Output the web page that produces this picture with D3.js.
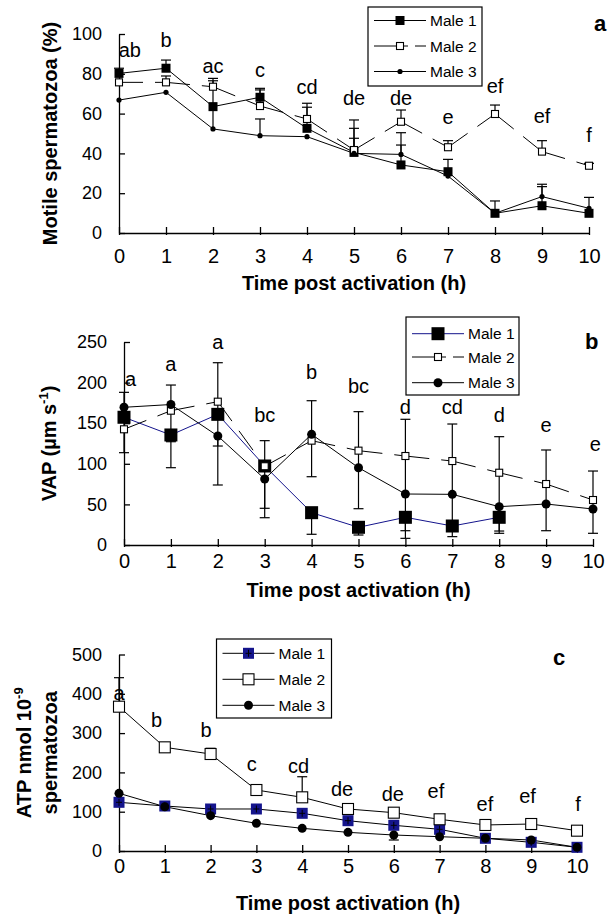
<!DOCTYPE html>
<html>
<head>
<meta charset="utf-8">
<script src="https://cdn.jsdelivr.net/npm/d3@7"></script>
<style>
  body { margin: 0; background: #fff; }
  svg { display: block; }
  text { font-family: 'Liberation Sans', Arial, sans-serif; fill: #000; }
</style>
</head>
<body>
<script>
const hours = [0, 1, 2, 3, 4, 5, 6, 7, 8, 9, 10];
const seriesNames = ["Male 1", "Male 2", "Male 3"];

// (a) motile spermatozoa, %
const motileTicks = [0, 20, 40, 60, 80, 100];
const motileMale1 = [80.2, 82.8, 63.5, 68.2, 52.6, 40.5, 34.2, 30.8, 9.9, 13.7, 9.9];
const motileMale2 = [75.7, 75.7, 73.5, 63.8, 57.3, 41.7, 55.9, 43.1, 59.8, 40.9, 33.8];
const motileMale3 = [66.8, 70.7, 52.3, 48.9, 48.4, 40.0, 39.5, 28.6, 9.9, 18.3, 12.4];
const motileMale1Hi = [82.8, 86.9, null, 72.7, 63.2, 47.6, 44.2, 37.0, 16.1, 23.3, null];
const motileMale2Hi = [null, 78.9, 77.7, 71.9, 65.2, 56.8, 61.8, 46.4, 64.3, 46.4, 35.0];
const motileMale3Hi = [null, null, 76.5, 57.3, null, 52.6, 50.4, null, null, 24.5, 17.9];
const motileLetters = ["ab", "b", "ac", "c", "cd", "de", "de", "e", "ef", "ef", "f"];
const motileLetterX = [0.23, 1, 2, 3, 4, 5, 6, 7, 8, 9, 10];
const motileLetterY = [88.3, 93.6, 80.4, 78.5, 69.8, 64.3, 64.3, 54.8, 70.2, 55.1, 45.9];

// (b) VAP, µm s-1
const vapTicks = [0, 50, 100, 150, 200, 250];
const vapMale1 = [157.3, 135.5, 160.9, 97.3, 39.8, 21.8, 34.1, 23.4, 34.1, null, null];
const vapMale2 = [142.5, 165.4, 176.5, 97.0, 128.5, 116.2, 109.6, 103.4, 89.0, 75.1, 55.4];
const vapMale3 = [169.6, 173.0, 134.2, 81.3, 136.3, 95.2, 62.8, 62.4, 47.2, 50.5, 44.3];
const vapMale1Lo = [113.7, 95.2, 73.9, 45.2, 13.2, 12.3, 8.2, null, 14.4, null, null];
const vapMale1Hi = [188.0, null, 224.5, 128.5, null, null, null, null, null, null, null];
const vapMale2Lo = [null, 127.2, null, null, null, null, null, null, null, null, null];
const vapMale3Lo = [null, null, 121.9, 33.6, 84.1, 44.7, 17.6, 10.3, 17.2, 17.6, 14.4];
const vapMale3Hi = [null, 197.0, null, null, 177.7, 164.2, 154.8, 149.0, 133.4, 117.0, 91.1];
const vapLetters = ["a", "a", "a", "bc", "b", "bc", "d", "cd", "d", "e", "e"];
const vapLetterX = [0.14, 1, 2, 3, 4, 5, 6, 7, 8, 9, 10.05];
const vapLetterY = [196.2, 214.7, 241.0, 151.8, 204.0, 187.6, 161.3, 161.3, 151.8, 139.5, 115.8];

// (c) ATP, nmol 10-9 spermatozoa
const atpTicks = [0, 100, 200, 300, 400, 500];
const atpMale1 = [123.9, 114.5, 106.9, 106.9, 95.9, 77.1, 65.4, 55.2, 32.3, 22.1, 9.4];
const atpMale2 = [367.2, 263.8, 246.8, 155.2, 136.6, 106.9, 97.5, 80.7, 66.2, 68.7, 51.7];
const atpMale3 = [146.8, 112.7, 89.9, 70.5, 57.7, 47.5, 40.7, 36.4, 32.3, 28.0, 9.4];
const atpMale2Hi = [441.0, null, 261.3, null, 189.0, null, null, null, null, null, null];
const atpMale3Lo = [null, null, null, null, null, null, 28.0, null, null, null, null];
const atpLetters = ["a", "b", "b", "c", "cd", "de", "de", "ef", "ef", "ef", "f"];
const atpLetterX = [0, 0.82, 1.9, 2.9, 3.92, 4.87, 5.98, 6.92, 7.99, 8.92, 10.02];
const atpLetterY = [384.2, 314.8, 290.8, 204.3, 199.2, 140.0, 128.0, 134.1, 102.5, 121.4, 102.5];

const NAVY = "#14148c";
const svg = d3.select("body").append("svg").attr("width", 608).attr("height", 917);

function drawMarker(g, type, cx, cy, size, fill) {
  if (type === "dot") {
    g.append("circle").attr("cx", cx).attr("cy", cy).attr("r", size).attr("fill", "#000");
  } else if (type === "open") {
    g.append("rect").attr("x", cx - size / 2).attr("y", cy - size / 2)
      .attr("width", size).attr("height", size)
      .attr("fill", "#fff").attr("stroke", "#000").attr("stroke-width", 1.1);
  } else {
    g.append("rect").attr("x", cx - size / 2).attr("y", cy - size / 2)
      .attr("width", size).attr("height", size).attr("fill", fill || "#000");
    if (type === "plus") {
      g.append("path")
        .attr("d", `M${cx - 3},${cy}H${cx + 3}M${cx},${cy - 3.5}V${cy + 3.5}`)
        .attr("stroke", "#000").attr("stroke-width", 1);
    }
  }
}

function drawPanel(p) {
  const g = svg.append("g");
  const x = d3.scaleLinear().domain([0, 10]).range(p.xRange);
  const y = d3.scaleLinear().domain([0, d3.max(p.yTicks)]).range(p.yRange);

  // y axis, ticks pointing inside
  const ya = g.append("g")
    .attr("transform", `translate(${p.xRange[0]},0)`)
    .call(d3.axisLeft(y).tickValues(p.yTicks).tickSizeInner(-6).tickSizeOuter(0).tickPadding(17))
    .attr("font-family", null).attr("font-size", 18);
  ya.selectAll("path,line").attr("stroke", "#000").attr("stroke-width", 1.3);

  // x axis, ticks crossing the line
  const xa = g.append("g")
    .attr("transform", `translate(0,${p.yRange[0]})`)
    .call(d3.axisBottom(x).tickValues(hours).tickSizeInner(-6).tickSizeOuter(0).tickPadding(p.xLabelPad))
    .attr("font-family", null).attr("font-size", 20);
  xa.selectAll("path,line").attr("stroke", "#000").attr("stroke-width", 1.3);
  xa.selectAll(".tick line").attr("y1", 2);

  // lines
  p.series.forEach(s => {
    if (s.dashed) {
      for (let i = 0; i < hours.length - 1; i++) {
        if (s.values[i] == null || s.values[i + 1] == null) continue;
        g.append("line")
          .attr("x1", x(hours[i])).attr("y1", y(s.values[i]))
          .attr("x2", x(hours[i + 1])).attr("y2", y(s.values[i + 1]))
          .attr("stroke", s.lineColor).attr("stroke-width", 1)
          .attr("stroke-dasharray", "24,12");
      }
    } else {
      const line = d3.line()
        .defined(d => d != null)
        .x((d, i) => x(hours[i]))
        .y(d => y(d));
      g.append("path").datum(s.values)
        .attr("d", line).attr("fill", "none")
        .attr("stroke", s.lineColor).attr("stroke-width", 1);
    }
  });

  // error bars
  p.series.forEach(s => {
    [s.hi, s.lo].forEach(bound => {
      if (!bound) return;
      bound.forEach((b, i) => {
        if (b == null || s.values[i] == null) return;
        const cx = x(hours[i]);
        g.append("line").attr("x1", cx).attr("x2", cx)
          .attr("y1", y(s.values[i])).attr("y2", y(b))
          .attr("stroke", "#000").attr("stroke-width", 1.2);
        g.append("line").attr("x1", cx - 5).attr("x2", cx + 5)
          .attr("y1", y(b)).attr("y2", y(b))
          .attr("stroke", "#000").attr("stroke-width", 1.2);
      });
    });
  });

  // markers
  p.series.forEach(s => {
    s.values.forEach((v, i) => {
      if (v == null) return;
      drawMarker(g, s.marker, x(hours[i]), y(v), s.size, s.fill);
    });
  });

  // significance letters
  g.selectAll("text.letter").data(p.letters).enter().append("text")
    .attr("class", "letter")
    .attr("x", (d, i) => x(p.letterX[i]))
    .attr("y", (d, i) => y(p.letterY[i]))
    .attr("text-anchor", "middle")
    .attr("font-size", 20)
    .text(d => d);

  // x title
  g.append("text")
    .attr("x", (p.xRange[0] + p.xRange[1]) / 2).attr("y", p.xTitleY)
    .attr("text-anchor", "middle").attr("font-size", 20).attr("font-weight", "bold")
    .text("Time post activation (h)");

  // y title
  const yc = (p.yRange[0] + p.yRange[1]) / 2;
  p.yTitle.forEach((ln, j) => {
    const t = g.append("text")
      .attr("transform", `translate(${p.yTitleX[j]},${yc}) rotate(-90)`)
      .attr("text-anchor", "middle").attr("font-size", 20).attr("font-weight", "bold");
    ln.forEach(part => {
      const ts = t.append("tspan").text(part.t);
      if (part.sup) ts.attr("font-size", 13).attr("dy", -8);
      if (part.after) ts.attr("dy", 8);
    });
  });

  // panel letter
  g.append("text").attr("x", p.tag.x).attr("y", p.tag.y)
    .attr("font-size", 22).attr("font-weight", "bold").text(p.tag.t);

  // legend
  const L = p.legend;
  g.append("rect").attr("x", L.x).attr("y", L.y).attr("width", L.w).attr("height", L.h)
    .attr("fill", "#fff").attr("stroke", "#000").attr("stroke-width", 1.2);
  p.series.forEach((s, j) => {
    const ry = L.y + L.rows[j];
    g.append("line").attr("x1", L.x + 6).attr("x2", L.x + 58)
      .attr("y1", ry).attr("y2", ry)
      .attr("stroke", s.lineColor).attr("stroke-width", 1)
      .attr("stroke-dasharray", s.dashed ? "34,7" : null);
    drawMarker(g, s.marker, L.x + 32, ry, s.size, s.fill);
    g.append("text").attr("x", L.x + 62).attr("y", ry + 5.5)
      .attr("font-size", 15.5).text(seriesNames[j]);
  });
}

drawPanel({
  xRange: [119, 589], yRange: [233, 34], yTicks: motileTicks, xLabelPad: 16, xTitleY: 290,
  yTitle: [[{ t: "Motile spermatozoa (%)" }]], yTitleX: [57],
  tag: { t: "a", x: 594, y: 31 },
  legend: { x: 368, y: 7, w: 114, h: 79, rows: [13.5, 39, 64.5] },
  letters: motileLetters, letterX: motileLetterX, letterY: motileLetterY,
  series: [
    { values: motileMale1, hi: motileMale1Hi, marker: "square", size: 9, lineColor: "#000" },
    { values: motileMale2, hi: motileMale2Hi, marker: "open", size: 7, lineColor: "#000", dashed: true },
    { values: motileMale3, hi: motileMale3Hi, marker: "dot", size: 2.6, lineColor: "#000" }
  ]
});

drawPanel({
  xRange: [124, 593], yRange: [545, 342], yTicks: vapTicks, xLabelPad: 9, xTitleY: 597,
  yTitle: [[{ t: "VAP (µm s" }, { t: "-1", sup: true }, { t: ")", after: true }]], yTitleX: [56],
  tag: { t: "b", x: 585, y: 349 },
  legend: { x: 406, y: 317, w: 113, h: 78, rows: [16.7, 40, 65.7] },
  letters: vapLetters, letterX: vapLetterX, letterY: vapLetterY,
  series: [
    { values: vapMale1, hi: vapMale1Hi, lo: vapMale1Lo, marker: "square", size: 13, lineColor: NAVY },
    { values: vapMale2, lo: vapMale2Lo, marker: "open", size: 7, lineColor: "#000", dashed: true },
    { values: vapMale3, hi: vapMale3Hi, lo: vapMale3Lo, marker: "dot", size: 4.5, lineColor: "#000" }
  ]
});

drawPanel({
  xRange: [119, 577], yRange: [851, 654.5], yTicks: atpTicks, xLabelPad: 8, xTitleY: 910,
  yTitle: [[{ t: "ATP nmol 10" }, { t: "-9", sup: true }], [{ t: "spermatozoa" }]], yTitleX: [31, 57],
  tag: { t: "c", x: 553, y: 665 },
  legend: { x: 216.5, y: 639, w: 115, h: 79, rows: [14.3, 40.3, 66.3] },
  letters: atpLetters, letterX: atpLetterX, letterY: atpLetterY,
  series: [
    { values: atpMale1, marker: "plus", size: 11, fill: NAVY, lineColor: "#000" },
    { values: atpMale2, hi: atpMale2Hi, marker: "open", size: 11, lineColor: "#000" },
    { values: atpMale3, lo: atpMale3Lo, marker: "dot", size: 4.5, lineColor: "#000" }
  ]
});
</script>
</body>
</html>
